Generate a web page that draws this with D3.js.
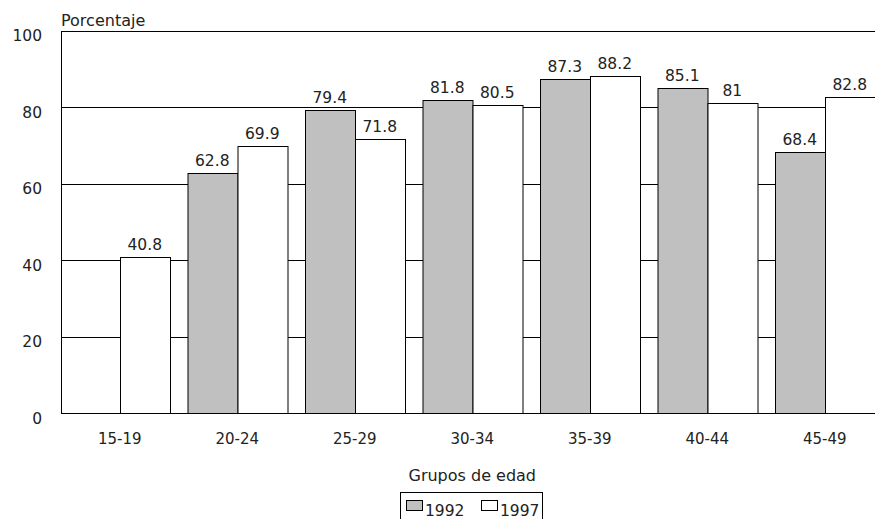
<!DOCTYPE html>
<html>
<head>
<meta charset="utf-8">
<script src="https://cdn.jsdelivr.net/npm/d3@7"></script>
<style>
  html, body { margin: 0; padding: 0; background: #fff; }
  svg { display: block; }
  text { font-family: "DejaVu Sans", sans-serif; fill: #222; }
</style>
</head>
<body>
<svg id="chart" width="875" height="519"></svg>
<script>
const categories = ["15-19", "20-24", "25-29", "30-34", "35-39", "40-44", "45-49"];
const series = ["1992", "1997"];
const values1992 = [null, 62.8, 79.4, 81.8, 87.3, 85.1, 68.4];
const values1997 = [40.8, 69.9, 71.8, 80.5, 88.2, 81, 82.8];
const yTicks = [0, 20, 40, 60, 80, 100];
const yLabel = "Porcentaje";
const xLabel = "Grupos de edad";

const colors = { "1992": "#c0c0c0", "1997": "#ffffff" };
const svg = d3.select("#chart");

const mLeft = 61, mRight = 883.5, mTop = 30.8, mBottom = 413.3;

const x0 = d3.scaleBand().domain(categories).range([mLeft, mRight]).padding(0);
const x1 = d3.scaleBand().domain(series)
  .range([x0.step() * 0.0745, x0.step() * 0.9255]).padding(0);
const y = d3.scaleLinear().domain([0, 100]).range([mBottom, mTop]);

const data = categories.map((c, i) => ({
  cat: c,
  vals: [
    { s: "1992", v: values1992[i] },
    { s: "1997", v: values1997[i] }
  ]
}));

// gridlines
svg.append("g")
  .selectAll("line")
  .data(yTicks.filter(t => t > 0))
  .join("line")
  .attr("x1", mLeft).attr("x2", mRight)
  .attr("y1", d => Math.round(y(d)) + 0.5)
  .attr("y2", d => Math.round(y(d)) + 0.5)
  .attr("stroke", "#000").attr("stroke-width", 1);

// bars
const groups = svg.append("g").selectAll("g")
  .data(data).join("g")
  .attr("transform", d => `translate(${x0(d.cat)},0)`);

groups.selectAll("rect")
  .data(d => d.vals.filter(e => e.v != null))
  .join("rect")
  .attr("x", d => Math.round(x1(d.s)) + 0.5)
  .attr("width", x1.bandwidth())
  .attr("y", d => Math.round(y(d.v)) + 0.5)
  .attr("height", d => Math.round(y(0)) - Math.round(y(d.v)))
  .attr("fill", d => colors[d.s])
  .attr("stroke", "#000").attr("stroke-width", 1);

groups.selectAll("text")
  .data(d => d.vals.filter(e => e.v != null))
  .join("text")
  .attr("x", d => x1(d.s) + x1.bandwidth() / 2)
  .attr("y", d => y(d.v) - 7)
  .attr("text-anchor", "middle")
  .attr("font-size", 15.5)
  .text(d => String(d.v));

// axes lines
svg.append("line")
  .attr("x1", mLeft + 0.5).attr("x2", mLeft + 0.5)
  .attr("y1", Math.round(y(100)) + 0.5).attr("y2", Math.round(y(0)) + 0.5)
  .attr("stroke", "#000");
svg.append("line")
  .attr("x1", mLeft).attr("x2", mRight)
  .attr("y1", Math.round(y(0)) + 0.5).attr("y2", Math.round(y(0)) + 0.5)
  .attr("stroke", "#000");

// y axis labels
const yAxis = d3.axisLeft(y).tickValues(yTicks).tickSize(0).tickPadding(19);
const yg = svg.append("g").attr("transform", `translate(${mLeft},0)`).call(yAxis);
yg.select(".domain").remove();
yg.selectAll("text")
  .attr("font-size", 15.5)
  .attr("font-family", "DejaVu Sans, sans-serif")
  .attr("fill", "#222")
  .attr("dy", "0.95em")
  .attr("y", -5);

// x axis labels
const xAxis = d3.axisBottom(x0).tickSize(0).tickPadding(20);
const xg = svg.append("g").attr("transform", `translate(0,${mBottom})`).call(xAxis);
xg.select(".domain").remove();
xg.selectAll("text")
  .attr("font-size", 15)
  .attr("font-family", "DejaVu Sans, sans-serif")
  .attr("fill", "#222");

// titles
svg.append("text")
  .attr("x", mLeft).attr("y", 25.5)
  .attr("font-size", 16)
  .text(yLabel);
svg.append("text")
  .attr("x", (mLeft + mRight) / 2).attr("y", 481)
  .attr("text-anchor", "middle")
  .attr("font-size", 16)
  .text(xLabel);

// legend
const lg = svg.append("g");
lg.append("rect")
  .attr("x", 400.5).attr("y", 492.5)
  .attr("width", 142).attr("height", 40)
  .attr("fill", "#fff").attr("stroke", "#000");
const items = lg.selectAll("g.item").data(series).join("g")
  .attr("class", "item")
  .attr("transform", (d, i) => `translate(${406 + i * 75},0)`);
items.append("rect")
  .attr("x", 0.5).attr("y", 500.5)
  .attr("width", 16).attr("height", 10)
  .attr("fill", d => colors[d]).attr("stroke", "#000");
items.append("text")
  .attr("x", 19).attr("y", 516)
  .attr("font-size", 15.5)
  .text(d => d);
</script>
</body>
</html>
